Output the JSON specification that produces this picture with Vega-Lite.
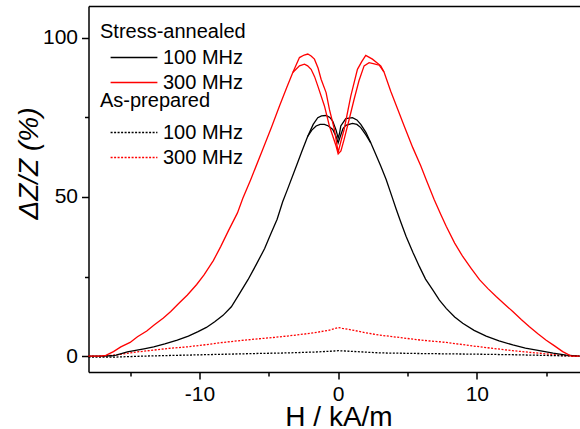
{
  "$schema": "https://vega.github.io/schema/vega-lite/v6.json",
  "width": 491,
  "height": 366,
  "autosize": {"type": "none"},
  "padding": {"left": 88.5, "top": 6, "right": 0, "bottom": 57},
  "background": "white",
  "config": {
    "view": {"stroke": null},
    "font": "Liberation Sans",
    "axis": {"grid": false, "domainColor": "black", "tickColor": "black", "labelColor": "black", "titleColor": "black", "domainWidth": 1.5, "tickWidth": 1.5}
  },
  "datasets": {
    "sa": [
      {"f":"100 MHz","b":"a","H":-18,"Z":0},{"f":"100 MHz","b":"a","H":-17,"Z":0},{"f":"100 MHz","b":"a","H":-16.3,"Z":0.1},{"f":"100 MHz","b":"a","H":-16,"Z":0.3},{"f":"100 MHz","b":"a","H":-15.2,"Z":1.3},{"f":"100 MHz","b":"a","H":-14,"Z":2.3},{"f":"100 MHz","b":"a","H":-13.3,"Z":2.9},{"f":"100 MHz","b":"a","H":-12.5,"Z":3.8},{"f":"100 MHz","b":"a","H":-11.6,"Z":5.0},{"f":"100 MHz","b":"a","H":-10.8,"Z":6.3},{"f":"100 MHz","b":"a","H":-10.1,"Z":7.7},{"f":"100 MHz","b":"a","H":-9.5,"Z":9.0},{"f":"100 MHz","b":"a","H":-8.9,"Z":10.8},{"f":"100 MHz","b":"a","H":-8.3,"Z":12.8},{"f":"100 MHz","b":"a","H":-7.7,"Z":15.5},{"f":"100 MHz","b":"a","H":-7.2,"Z":19.0},{"f":"100 MHz","b":"a","H":-6.5,"Z":24.0},{"f":"100 MHz","b":"a","H":-5.9,"Z":28.8},{"f":"100 MHz","b":"a","H":-5.3,"Z":33.8},{"f":"100 MHz","b":"a","H":-4.9,"Z":38},{"f":"100 MHz","b":"a","H":-4.4,"Z":43},{"f":"100 MHz","b":"a","H":-4.0,"Z":48.5},{"f":"100 MHz","b":"a","H":-3.66,"Z":52.3},{"f":"100 MHz","b":"a","H":-3.0,"Z":59.9},{"f":"100 MHz","b":"a","H":-2.6,"Z":64.5},{"f":"100 MHz","b":"a","H":-2.2,"Z":69.0},{"f":"100 MHz","b":"a","H":-1.8,"Z":72.8},{"f":"100 MHz","b":"a","H":-1.47,"Z":74.9},{"f":"100 MHz","b":"a","H":-1.2,"Z":75.5},{"f":"100 MHz","b":"a","H":-0.87,"Z":75.6},{"f":"100 MHz","b":"a","H":-0.6,"Z":75.0},{"f":"100 MHz","b":"a","H":-0.39,"Z":73.8},{"f":"100 MHz","b":"a","H":-0.15,"Z":71},{"f":"100 MHz","b":"a","H":0,"Z":68.5},{"f":"100 MHz","b":"a","H":0.1,"Z":70},{"f":"100 MHz","b":"a","H":0.19,"Z":72.3},{"f":"100 MHz","b":"a","H":0.55,"Z":74.6},{"f":"100 MHz","b":"a","H":1.03,"Z":74.9},{"f":"100 MHz","b":"a","H":1.35,"Z":74.2},{"f":"100 MHz","b":"a","H":1.63,"Z":72.8},{"f":"100 MHz","b":"a","H":2.0,"Z":70.3},{"f":"100 MHz","b":"a","H":2.35,"Z":67},{"f":"100 MHz","b":"a","H":2.7,"Z":63.5},{"f":"100 MHz","b":"a","H":3.07,"Z":59.7},{"f":"100 MHz","b":"a","H":3.46,"Z":55.5},{"f":"100 MHz","b":"a","H":3.91,"Z":49.7},{"f":"100 MHz","b":"a","H":4.18,"Z":46.2},{"f":"100 MHz","b":"a","H":4.5,"Z":42.3},{"f":"100 MHz","b":"a","H":4.9,"Z":37.6},{"f":"100 MHz","b":"a","H":5.4,"Z":32.5},{"f":"100 MHz","b":"a","H":5.86,"Z":28.1},{"f":"100 MHz","b":"a","H":6.3,"Z":24.2},{"f":"100 MHz","b":"a","H":6.82,"Z":20.8},{"f":"100 MHz","b":"a","H":7.3,"Z":17.6},{"f":"100 MHz","b":"a","H":7.79,"Z":15},{"f":"100 MHz","b":"a","H":8.4,"Z":12.3},{"f":"100 MHz","b":"a","H":8.98,"Z":10.3},{"f":"100 MHz","b":"a","H":9.8,"Z":8.1},{"f":"100 MHz","b":"a","H":10.67,"Z":6.3},{"f":"100 MHz","b":"a","H":11.6,"Z":4.8},{"f":"100 MHz","b":"a","H":12.59,"Z":3.5},{"f":"100 MHz","b":"a","H":13.5,"Z":2.5},{"f":"100 MHz","b":"a","H":14.51,"Z":1.7},{"f":"100 MHz","b":"a","H":15.5,"Z":0.9},{"f":"100 MHz","b":"a","H":16.44,"Z":0.3},{"f":"100 MHz","b":"a","H":17.4,"Z":0},
      {"f":"100 MHz","b":"b","H":-2.2,"Z":69.0},{"f":"100 MHz","b":"b","H":-1.9,"Z":71},{"f":"100 MHz","b":"b","H":-1.59,"Z":72.3},{"f":"100 MHz","b":"b","H":-1.3,"Z":72.8},{"f":"100 MHz","b":"b","H":-0.99,"Z":72.8},{"f":"100 MHz","b":"b","H":-0.7,"Z":72.3},{"f":"100 MHz","b":"b","H":-0.39,"Z":71.2},{"f":"100 MHz","b":"b","H":-0.15,"Z":69},{"f":"100 MHz","b":"b","H":0,"Z":67},{"f":"100 MHz","b":"b","H":0.15,"Z":69},{"f":"100 MHz","b":"b","H":0.35,"Z":71.5},{"f":"100 MHz","b":"b","H":0.55,"Z":72.5},{"f":"100 MHz","b":"b","H":1.03,"Z":73.1},{"f":"100 MHz","b":"b","H":1.35,"Z":72.8},{"f":"100 MHz","b":"b","H":1.63,"Z":71.8},{"f":"100 MHz","b":"b","H":2.0,"Z":69.5},{"f":"100 MHz","b":"b","H":2.35,"Z":67},
      {"f":"300 MHz","b":"a","H":-18,"Z":0},{"f":"300 MHz","b":"a","H":-17.2,"Z":0},{"f":"300 MHz","b":"a","H":-16.75,"Z":0.2},{"f":"300 MHz","b":"a","H":-16.2,"Z":1.4},{"f":"300 MHz","b":"a","H":-15.67,"Z":2.9},{"f":"300 MHz","b":"a","H":-15,"Z":4.3},{"f":"300 MHz","b":"a","H":-14.47,"Z":6.1},{"f":"300 MHz","b":"a","H":-13.8,"Z":7.9},{"f":"300 MHz","b":"a","H":-13.27,"Z":9.8},{"f":"300 MHz","b":"a","H":-12.6,"Z":12},{"f":"300 MHz","b":"a","H":-12.07,"Z":14},{"f":"300 MHz","b":"a","H":-11.5,"Z":16.5},{"f":"300 MHz","b":"a","H":-10.87,"Z":19.2},{"f":"300 MHz","b":"a","H":-10.2,"Z":22.5},{"f":"300 MHz","b":"a","H":-9.67,"Z":25.5},{"f":"300 MHz","b":"a","H":-9.0,"Z":30},{"f":"300 MHz","b":"a","H":-8.47,"Z":34.4},{"f":"300 MHz","b":"a","H":-7.9,"Z":39.5},{"f":"300 MHz","b":"a","H":-7.26,"Z":45},{"f":"300 MHz","b":"a","H":-6.88,"Z":49.5},{"f":"300 MHz","b":"a","H":-6.3,"Z":55.5},{"f":"300 MHz","b":"a","H":-5.44,"Z":64.9},{"f":"300 MHz","b":"a","H":-4.8,"Z":72},{"f":"300 MHz","b":"a","H":-4.23,"Z":78.6},{"f":"300 MHz","b":"a","H":-3.7,"Z":84.5},{"f":"300 MHz","b":"a","H":-3.27,"Z":89.1},{"f":"300 MHz","b":"a","H":-2.79,"Z":93.8},{"f":"300 MHz","b":"a","H":-2.45,"Z":94.6},{"f":"300 MHz","b":"a","H":-2.19,"Z":94.9},{"f":"300 MHz","b":"a","H":-1.95,"Z":94.3},{"f":"300 MHz","b":"a","H":-1.71,"Z":93.3},{"f":"300 MHz","b":"a","H":-1.45,"Z":90.5},{"f":"300 MHz","b":"a","H":-1.23,"Z":87},{"f":"300 MHz","b":"a","H":-0.87,"Z":82.8},{"f":"300 MHz","b":"a","H":-0.63,"Z":77.5},{"f":"300 MHz","b":"a","H":-0.27,"Z":71.2},{"f":"300 MHz","b":"a","H":0,"Z":64},{"f":"300 MHz","b":"a","H":0.2,"Z":67.5},{"f":"300 MHz","b":"a","H":0.43,"Z":71.2},{"f":"300 MHz","b":"a","H":0.91,"Z":81.7},{"f":"300 MHz","b":"a","H":1.39,"Z":90.1},{"f":"300 MHz","b":"a","H":1.7,"Z":92.5},{"f":"300 MHz","b":"a","H":1.99,"Z":94.5},{"f":"300 MHz","b":"a","H":2.47,"Z":93.3},{"f":"300 MHz","b":"a","H":3.07,"Z":91.2},{"f":"300 MHz","b":"a","H":3.3,"Z":89.3},{"f":"300 MHz","b":"a","H":3.79,"Z":83.2},{"f":"300 MHz","b":"a","H":4.3,"Z":77.5},{"f":"300 MHz","b":"a","H":4.76,"Z":72.3},{"f":"300 MHz","b":"a","H":5.38,"Z":65.5},{"f":"300 MHz","b":"a","H":5.96,"Z":59.7},{"f":"300 MHz","b":"a","H":6.34,"Z":55.5},{"f":"300 MHz","b":"a","H":6.92,"Z":49.2},{"f":"300 MHz","b":"a","H":7.4,"Z":44.5},{"f":"300 MHz","b":"a","H":7.79,"Z":40.8},{"f":"300 MHz","b":"a","H":8.4,"Z":35.5},{"f":"300 MHz","b":"a","H":8.98,"Z":31.3},{"f":"300 MHz","b":"a","H":9.6,"Z":27.5},{"f":"300 MHz","b":"a","H":10.19,"Z":24},{"f":"300 MHz","b":"a","H":10.8,"Z":21.2},{"f":"300 MHz","b":"a","H":11.39,"Z":18.7},{"f":"300 MHz","b":"a","H":12.0,"Z":16.3},{"f":"300 MHz","b":"a","H":12.59,"Z":14},{"f":"300 MHz","b":"a","H":13.2,"Z":11.5},{"f":"300 MHz","b":"a","H":13.79,"Z":9.2},{"f":"300 MHz","b":"a","H":14.4,"Z":7},{"f":"300 MHz","b":"a","H":15.0,"Z":5},{"f":"300 MHz","b":"a","H":15.6,"Z":3.2},{"f":"300 MHz","b":"a","H":16.19,"Z":1.4},{"f":"300 MHz","b":"a","H":16.8,"Z":0},{"f":"300 MHz","b":"a","H":17.4,"Z":0},
      {"f":"300 MHz","b":"b","H":-3.27,"Z":89.1},{"f":"300 MHz","b":"b","H":-2.79,"Z":91.2},{"f":"300 MHz","b":"b","H":-2.43,"Z":91.7},{"f":"300 MHz","b":"b","H":-2.2,"Z":91.2},{"f":"300 MHz","b":"b","H":-1.95,"Z":90.1},{"f":"300 MHz","b":"b","H":-1.7,"Z":87.8},{"f":"300 MHz","b":"b","H":-1.47,"Z":84.9},{"f":"300 MHz","b":"b","H":-0.99,"Z":78.6},{"f":"300 MHz","b":"b","H":-0.63,"Z":72.3},{"f":"300 MHz","b":"b","H":-0.15,"Z":66},{"f":"300 MHz","b":"b","H":0,"Z":63.5},{"f":"300 MHz","b":"b","H":0.2,"Z":64.5},{"f":"300 MHz","b":"b","H":0.43,"Z":68.1},{"f":"300 MHz","b":"b","H":0.8,"Z":74.5},{"f":"300 MHz","b":"b","H":1.15,"Z":80.7},{"f":"300 MHz","b":"b","H":1.5,"Z":86.5},{"f":"300 MHz","b":"b","H":1.87,"Z":91.2},{"f":"300 MHz","b":"b","H":2.23,"Z":92.2},{"f":"300 MHz","b":"b","H":2.6,"Z":91.8},{"f":"300 MHz","b":"b","H":2.96,"Z":91.4},{"f":"300 MHz","b":"b","H":3.3,"Z":89.3}
    ],
    "ap": [
      {"f":"300 MHz","H":-18,"Z":0},{"f":"300 MHz","H":-16.9,"Z":0},{"f":"300 MHz","H":-16,"Z":0.4},{"f":"300 MHz","H":-14.5,"Z":1.3},{"f":"300 MHz","H":-13.27,"Z":1.9},{"f":"300 MHz","H":-12,"Z":2.5},{"f":"300 MHz","H":-10.87,"Z":2.9},{"f":"300 MHz","H":-9.5,"Z":3.6},{"f":"300 MHz","H":-8.47,"Z":4.2},{"f":"300 MHz","H":-7,"Z":4.9},{"f":"300 MHz","H":-6.06,"Z":5.3},{"f":"300 MHz","H":-4.8,"Z":5.8},{"f":"300 MHz","H":-3.66,"Z":6.3},{"f":"300 MHz","H":-2.5,"Z":6.9},{"f":"300 MHz","H":-1.5,"Z":7.5},{"f":"300 MHz","H":-0.7,"Z":8.1},{"f":"300 MHz","H":-0.2,"Z":8.7},{"f":"300 MHz","H":0,"Z":9.0},{"f":"300 MHz","H":0.3,"Z":8.7},{"f":"300 MHz","H":1,"Z":8.2},{"f":"300 MHz","H":2,"Z":7.3},{"f":"300 MHz","H":2.98,"Z":6.6},{"f":"300 MHz","H":4.5,"Z":5.8},{"f":"300 MHz","H":6,"Z":5.0},{"f":"300 MHz","H":7.79,"Z":4.3},{"f":"300 MHz","H":9.5,"Z":3.3},{"f":"300 MHz","H":11,"Z":2.5},{"f":"300 MHz","H":12.59,"Z":1.7},{"f":"300 MHz","H":14,"Z":1.1},{"f":"300 MHz","H":15.5,"Z":0.5},{"f":"300 MHz","H":16.5,"Z":0.05},{"f":"300 MHz","H":17.4,"Z":0},
      {"f":"100 MHz","H":-18,"Z":-0.3},{"f":"100 MHz","H":-16,"Z":-0.3},{"f":"100 MHz","H":-14,"Z":0},{"f":"100 MHz","H":-10,"Z":0.4},{"f":"100 MHz","H":-6,"Z":0.8},{"f":"100 MHz","H":-3.66,"Z":1.0},{"f":"100 MHz","H":-1.5,"Z":1.3},{"f":"100 MHz","H":-0.3,"Z":1.6},{"f":"100 MHz","H":0,"Z":1.7},{"f":"100 MHz","H":0.5,"Z":1.6},{"f":"100 MHz","H":3,"Z":1.0},{"f":"100 MHz","H":6,"Z":0.8},{"f":"100 MHz","H":10,"Z":0.6},{"f":"100 MHz","H":13,"Z":0.4},{"f":"100 MHz","H":16,"Z":0.1},{"f":"100 MHz","H":17.4,"Z":0}
    ]
  },
  "resolve": {"scale": {"color": "independent"}, "axis": {"x": "independent", "y": "independent"}},
  "layer": [
    {
      "mark": {"type": "rule", "color": "black", "strokeWidth": 1.5},
      "encoding": {
        "x": {"datum": 0, "type": "quantitative", "scale": {"domain": [-18, 17.4], "nice": false, "zero": false},
          "axis": {"orient": "top", "ticks": false, "labels": false, "domain": true, "title": null}}
      }
    },
    {
      "data": {"name": "ap"},
      "mark": {"type": "line", "strokeWidth": 1.3, "strokeDash": [2, 1.5]},
      "encoding": {
        "x": {"field": "H", "type": "quantitative", "scale": {"domain": [-18, 17.4], "nice": false, "zero": false},
          "axis": {"orient": "bottom", "values": [-15, -5, 5, 15], "labels": false, "domain": false, "tickSize": 4, "title": null}},
        "y": {"field": "Z", "type": "quantitative", "scale": {"domain": [-5, 110], "nice": false, "zero": false},
          "axis": {"orient": "left", "values": [25, 75], "labels": false, "domain": false, "tickSize": 4, "title": null}},
        "color": {"field": "f", "type": "nominal", "scale": {"domain": ["100 MHz", "300 MHz"], "range": ["#000000", "#ff0000"]},
          "legend": {"title": "As-prepared", "orient": "none", "legendX": 11.5, "legendY": 84.5, "direction": "vertical",
            "symbolType": "M-3.9,0H3.9", "symbolSize": 144, "symbolStrokeWidth": 1.3, "symbolDash": [2, 1.5], "symbolOffset": 24, "labelOffset": 19,
            "titleFontSize": 20, "titleFontWeight": "normal", "titleColor": "black", "titlePadding": 12,
            "labelFontSize": 20, "labelColor": "black", "rowPadding": 5, "padding": 0}}
      }
    },
    {
      "data": {"name": "sa"},
      "mark": {"type": "line", "strokeWidth": 1.3},
      "encoding": {
        "x": {"field": "H", "type": "quantitative", "scale": {"domain": [-18, 17.4], "nice": false, "zero": false},
          "axis": {"orient": "bottom", "values": [-10, 0, 10], "labelExpr": "toString(datum.value)", "tickSize": 7, "labelFontSize": 21, "labelPadding": 4,
            "title": "H / kA/m", "titleFontSize": 28, "titleFontWeight": "normal", "titleX": 250, "titleY": 53, "titleBaseline": "alphabetic"}},
        "y": {"field": "Z", "type": "quantitative", "scale": {"domain": [-5, 110], "nice": false, "zero": false},
          "axis": {"orient": "left", "values": [0, 50, 100], "tickSize": 7, "labelFontSize": 21, "labelPadding": 4,
            "title": "ΔZ/Z (%)", "titleFontSize": 28, "titleFontWeight": "normal", "titleFontStyle": "italic", "titleX": -51.5, "titleY": 157, "titleBaseline": "alphabetic"}},
        "detail": {"field": "b"},
        "color": {"field": "f", "type": "nominal", "scale": {"domain": ["100 MHz", "300 MHz"], "range": ["#000000", "#ff0000"]},
          "legend": {"title": "Stress-annealed", "orient": "none", "legendX": 11.5, "legendY": 15.5, "direction": "vertical",
            "symbolType": "M-3.9,0H3.9", "symbolSize": 144, "symbolStrokeWidth": 1.3, "symbolOffset": 24, "labelOffset": 19,
            "titleFontSize": 20, "titleFontWeight": "normal", "titleColor": "black", "titlePadding": 6,
            "labelFontSize": 20, "labelColor": "black", "rowPadding": 5, "padding": 0}}
      }
    }
  ]
}
